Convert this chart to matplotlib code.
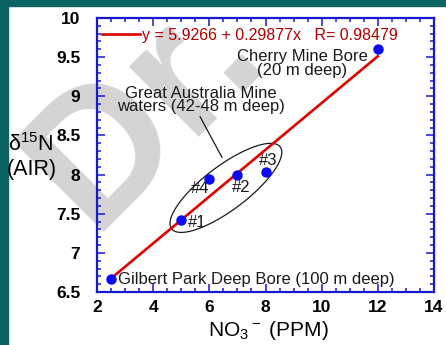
import numpy as np
import matplotlib
matplotlib.use('AGG')
import matplotlib.pyplot as plt
from matplotlib.patches import Rectangle, Polygon
from matplotlib.ticker import MultipleLocator

plt.rcParams['font.family'] = ['Liberation Sans', 'DejaVu Sans']
plt.rcParams['mathtext.fontset'] = 'custom'
plt.rcParams['mathtext.rm'] = 'Liberation Sans'

# data
no3 = [2.5, 5.0, 6.0, 7.0, 8.0, 12.0]
d15n = [6.66, 7.42, 7.94, 7.99, 8.03, 9.60]
fit_x = [2.5, 12.0]
intercept, slope = 5.9266, 0.29877
r_value = 0.98479
well_labels = ['#1', '#4', '#2', '#3']
well_x = [5.0, 6.0, 7.0, 8.0]
well_y = [7.42, 7.94, 7.99, 8.03]

teal = '#0b6464'
blue = '#1818d0'

fig = plt.figure(figsize=(4.46, 3.45), dpi=100)
fig.patch.set_facecolor('white')
fig.add_artist(Rectangle((0, 0), 8 / 446, 1, transform=fig.transFigure,
                         color=teal, zorder=2))
fig.add_artist(Rectangle((0, 1 - 5.5 / 345), 1, 5.5 / 345, transform=fig.transFigure,
                         color=teal, zorder=2))
# watermark
fig.text(92 / 446, 1 - 232 / 345, 'Dr.', rotation=45, rotation_mode='anchor',
         ha='left', va='baseline', fontsize=135, fontweight='bold',
         color='#d4d4d4', zorder=-1)

ax = fig.add_axes([97 / 446, 1 - 292 / 345, 337 / 446, 274 / 345])
ax.set_facecolor('none')
ax.set_xlim(2, 14)
ax.set_ylim(6.5, 10)

fit_y = [intercept + slope * x for x in fit_x]
ax.plot(fit_x, fit_y, color='#e00000', lw=1.9, zorder=3,
        label='y = 5.9266 + 0.29877x   R= %.5f' % r_value)
ax.plot(no3, d15n, 'o', color='#0a0af0', ms=6.5, zorder=4)

ax.xaxis.set_major_locator(MultipleLocator(2))
ax.xaxis.set_minor_locator(MultipleLocator(0.5))
ax.yaxis.set_minor_locator(MultipleLocator(0.1))
ax.set_yticks(np.arange(6.5, 10.01, 0.5))
ax.set_yticklabels(['6.5', '7', '7.5', '8', '8.5', '9', '9.5', '10'])
ax.tick_params(which='both', direction='in', top=True, right=True, color=blue,
               width=1.1)
ax.tick_params(which='major', length=6)
ax.tick_params(which='minor', length=3)
ax.tick_params(axis='y', pad=12)
ax.tick_params(axis='x', pad=6)
for lab in ax.get_xticklabels() + ax.get_yticklabels():
    lab.set_fontsize(12.5)
    lab.set_fontweight('bold')
for sp in ax.spines.values():
    sp.set_color(blue)
    sp.set_linewidth(1.6)

leg = ax.legend(loc='upper left', bbox_to_anchor=(0.015, 0.965), frameon=False,
                fontsize=11.5, handlelength=2.4, handletextpad=0.1,
                borderpad=0, borderaxespad=0, labelcolor='#b00000')

fig.text(8 / 446, 1 - 145 / 345, r'$\mathregular{\delta^{15}N}$', fontsize=15.5,
         ha='left', va='center')
fig.text(7 / 446, 1 - 170 / 345, '(AIR)', fontsize=15.5, ha='left', va='center')
fig.text(268 / 446, 1 - 336 / 345, r'$\mathregular{NO_3}$$\mathregular{^-}$ (PPM)',
         fontsize=15, ha='center', va='baseline')

# annotations
txt = dict(fontsize=12, color='#1a1a1a')
offsets = [(5, -1.5, 'left'), (0, -6.5, 'right'), (3, -9, 'center'), (2, 8.5, 'center')]
for lab, x, y, (dx, dy, ha) in zip(well_labels, well_x, well_y, offsets):
    ax.annotate(lab, (x, y), xytext=(dx, dy), textcoords='offset points',
                ha=ha, va='center', **txt)
ax.annotate('Gilbert Park Deep Bore (100 m deep)', (no3[0], d15n[0]),
            xytext=(5, 0), textcoords='offset points', ha='left', va='center', **txt)
ax.text(9.3, 9.42, 'Cherry Mine Bore\n(20 m deep)', ha='center', va='center',
        linespacing=0.85, **txt)
ax.text(5.70, 8.95, 'Great Australia Mine\nwaters (42-48 m deep)', ha='center',
        va='center', linespacing=0.85, **txt)
ax.plot([5.67, 6.45], [8.74, 8.22], color='#1a1a1a', lw=0.9)

# ellipse around the mine waters, shaped in screen pixels
fig.canvas.draw()
cx, cy = 6.59, 7.83
px0, py0 = ax.transData.transform((cx, cy))
t = np.linspace(0, 2 * np.pi, 200)
a, b, ang = 68, 22, np.radians(37)
ex = px0 + a * np.cos(t) * np.cos(ang) - b * np.sin(t) * np.sin(ang)
ey = py0 + a * np.cos(t) * np.sin(ang) + b * np.sin(t) * np.cos(ang)
pts = ax.transData.inverted().transform(np.column_stack([ex, ey]))
ax.add_patch(Polygon(pts, closed=True, fill=False, ec='#1a1a1a', lw=0.9))

fig.savefig('out.png', dpi=100)
